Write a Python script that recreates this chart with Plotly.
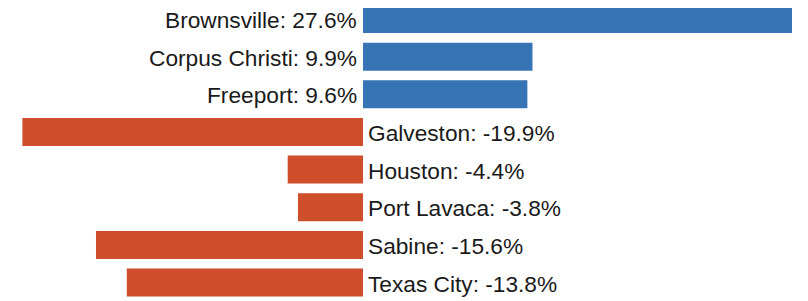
import plotly.graph_objects as go

ports = ["Brownsville", "Corpus Christi", "Freeport", "Galveston", "Houston",
         "Port Lavaca", "Sabine", "Texas City"]
changes = [27.6, 9.9, 9.6, -19.9, -4.4, -3.8, -15.6, -13.8]

BLUE = "#3674b5"
RED = "#cf4e2b"
colors = [BLUE if v >= 0 else RED for v in changes]

fig = go.Figure()
fig.add_trace(go.Bar(
    x=changes, y=list(range(len(ports))), orientation="h",
    marker=dict(color=colors, line=dict(width=0)),
    width=0.744,
    hoverinfo="skip",
))

annotations = []
for i, (p, v) in enumerate(zip(ports, changes)):
    annotations.append(dict(
        x=0, y=i, xref="x", yref="y",
        text=f"{p}: {v:.1f}%",
        showarrow=False,
        xanchor="right" if v >= 0 else "left",
        xshift=-4 if v >= 0 else 3,
        yshift=-1,
        font=dict(family="Liberation Sans, Arial, sans-serif", size=22.7, color="#1a1a1a"),
    ))

# page has an 8px body margin; figure sized to fill the remaining window
fig.update_layout(
    width=800, height=293,
    margin=dict(l=0, r=16, t=0, b=0, pad=0),
    paper_bgcolor="white", plot_bgcolor="white",
    showlegend=False,
    annotations=annotations,
    xaxis=dict(range=[-20.74, 25.06], visible=False, fixedrange=True),
    yaxis=dict(range=[7.49, -0.292], visible=False, fixedrange=True),
)

fig.write_html("out.html")
